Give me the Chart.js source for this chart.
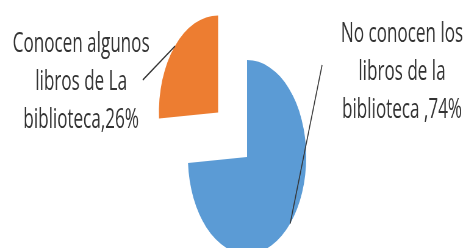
<!DOCTYPE html>
<html>
<head>
<meta charset="utf-8">
<script src="https://cdn.jsdelivr.net/npm/chart.js@4.4.0/dist/chart.umd.min.js"></script>
<style>
  html, body { margin: 0; padding: 0; background: #fff; overflow: hidden; width: 468px; height: 248px; }
  /* the source picture is squeezed horizontally, so the whole chart is too */
  #wrap { width: 767px; height: 400px; transform: scaleX(0.61); transform-origin: 0 0; }
</style>
</head>
<body>
<div id="wrap"><canvas id="chart" width="767" height="400"></canvas></div>
<script>
const categories = ["No conocen los libros de la biblioteca", "Conocen algunos libros de La biblioteca"];
const values = [74, 26];
const labelLines = [
  ["No conocen los", "libros de la", "biblioteca ,74%"],
  ["Conocen algunos", "libros de La", "biblioteca,26%"]
];
const colors = ["#5B9BD5", "#ED7D31"];

// where each callout sits (canvas px, before the squeeze)
const callouts = [
  { x: 659, y: 42, lineX: 528, lineY: 65 },
  { x: 133, y: 52, lineX: 234, lineY: 80 }
];
const lineHeight = 38;

const calloutPlugin = {
  id: "callouts",
  afterDatasetsDraw(chart) {
    const ctx = chart.ctx;
    const arcs = chart.getDatasetMeta(0).data;
    ctx.save();
    arcs.forEach((arc, i) => {
      const c = callouts[i];
      const mid = (arc.startAngle + arc.endAngle) / 2;
      const shift = (arc.options.offset || 0) / 4;
      const px = arc.x + Math.cos(mid) * (arc.outerRadius + shift);
      const py = arc.y + Math.sin(mid) * (arc.outerRadius + shift);

      ctx.strokeStyle = "#333";
      ctx.lineWidth = 1.6;
      ctx.beginPath();
      ctx.moveTo(c.lineX, c.lineY);
      ctx.lineTo(px, py);
      ctx.stroke();

      ctx.fillStyle = "#333";
      ctx.font = "28px 'Open Sans'";
      ctx.textAlign = "center";
      ctx.textBaseline = "alphabetic";
      labelLines[i].forEach((line, k) => {
        ctx.fillText(line, c.x, c.y + k * lineHeight);
      });
    });
    ctx.restore();
  }
};

const ctx = document.getElementById("chart").getContext("2d");
const chart = new Chart(ctx, {
  type: "pie",
  data: {
    labels: categories,
    datasets: [{
      data: values,
      backgroundColor: colors,
      borderWidth: 0,
      offset: [0, 260],
      clip: false
    }]
  },
  options: {
    responsive: false,
    animation: false,
    devicePixelRatio: 1,
    radius: 97,
    // centre lands at (405, 157); extra canvas height only keeps the big offset legal
    layout: { padding: { left: 43, right: 0, top: 0, bottom: 86 } },
    plugins: {
      legend: { display: false },
      tooltip: { enabled: false }
    }
  },
  plugins: [calloutPlugin]
});
</script>
</body>
</html>
